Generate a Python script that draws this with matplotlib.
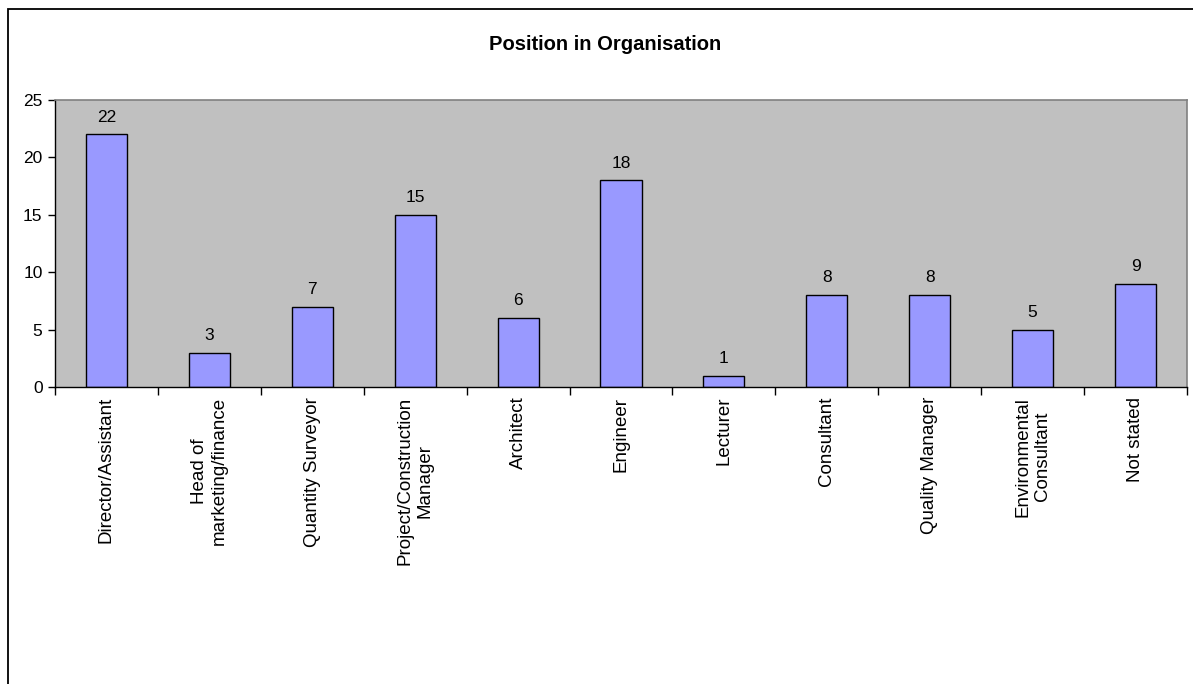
import matplotlib.pyplot as plt
from matplotlib.patches import Rectangle
from matplotlib.ticker import FixedLocator

plt.rcParams['font.family'] = ['Liberation Sans', 'DejaVu Sans']

# Survey responses by position held
POSITIONS = [
    'Director/Assistant',
    'Head of\nmarketing/finance',
    'Quantity Surveyor',
    'Project/Construction\nManager',
    'Architect',
    'Engineer',
    'Lecturer',
    'Consultant',
    'Quality Manager',
    'Environmental\nConsultant',
    'Not stated',
]
COUNTS = [22, 3, 7, 15, 6, 18, 1, 8, 8, 5, 9]
Y_TICKS = [0, 5, 10, 15, 20, 25]


def main() -> None:
    fig = plt.figure(figsize=(11.93, 6.84), dpi=100)
    fig.patch.set_facecolor('white')

    # outer chart frame (right and bottom edges run off the canvas)
    fig.patches.append(Rectangle((8 / 1193, -0.05), 1.2, 1 - 9 / 684 + 0.05,
                                 transform=fig.transFigure, fill=False,
                                 edgecolor='black', linewidth=1.3))

    ax = fig.add_axes([55 / 1193, 1 - 387 / 684, 1132 / 1193, 287 / 684])
    ax.set_facecolor('#C0C0C0')

    x = list(range(len(POSITIONS)))
    bars = ax.bar(x, COUNTS, width=0.4, color='#9999FF',
                  edgecolor='black', linewidth=1.0, zorder=2)

    for rect, val in zip(bars, COUNTS):
        ax.annotate(str(val), (rect.get_x() + rect.get_width() / 2, val),
                    xytext=(0, 7), textcoords='offset points',
                    ha='center', va='bottom', fontsize=12.5, color='black')

    ax.set_xlim(-0.5, len(POSITIONS) - 0.5)
    ax.set_ylim(0, 25)
    ax.set_yticks(Y_TICKS)
    ax.tick_params(axis='y', length=5, width=1, pad=4, labelsize=12.5,
                   direction='out')

    ax.set_xticks(x)
    ax.set_xticklabels(POSITIONS, rotation=90, fontsize=13.5,
                       ha='center', va='top', multialignment='center')
    ax.tick_params(axis='x', which='major', length=0, pad=7)
    ax.xaxis.set_minor_locator(FixedLocator([i - 0.5 for i in range(len(POSITIONS) + 1)]))
    ax.tick_params(axis='x', which='minor', length=6, width=1, direction='out')

    for side in ('top', 'right'):
        ax.spines[side].set_color('#808080')
        ax.spines[side].set_linewidth(1.2)
    for side in ('left', 'bottom'):
        ax.spines[side].set_color('black')
        ax.spines[side].set_linewidth(1.0)

    fig.text(605 / 1193, 1 - 45 / 684, 'Position in Organisation',
             ha='center', va='center', fontsize=14.5, fontweight='bold')

    fig.savefig('out.png', dpi=100)
    plt.close(fig)


if __name__ == "__main__":
    main()
